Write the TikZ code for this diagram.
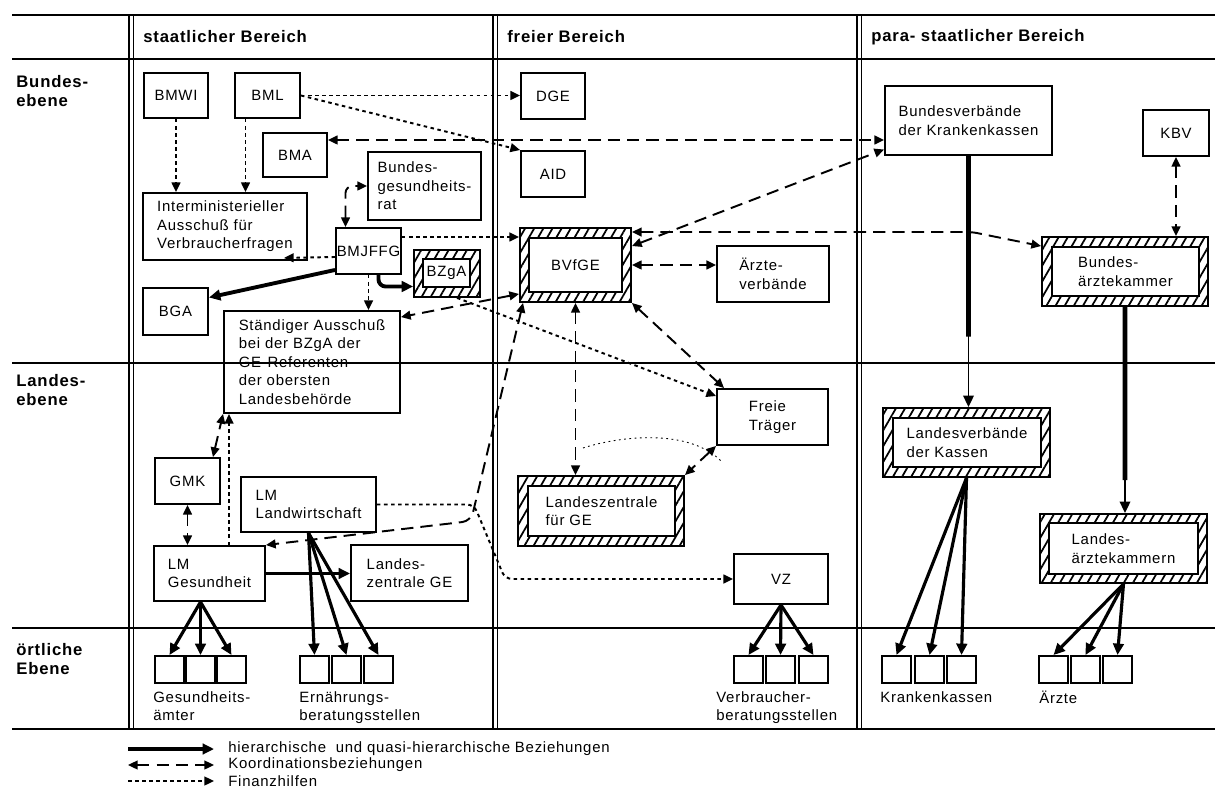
\documentclass[tikz,border=0pt]{standalone}
\usepackage{fontspec}
\setmainfont{Liberation Sans}[LetterSpace=5]
\usetikzlibrary{arrows.meta,calc,fit,patterns.meta}
\newcommand{\lblfont}{\fontsize{8.5}{10.6}\selectfont}
\newcommand{\hdfont}{\fontsize{9.5}{10.6}\selectfont\bfseries}
\tikzset{
  box/.style={draw, line width=1.1pt, inner sep=0pt, label={[lbl]center:#1}},
  hatchbox/.style={draw, line width=1.1pt, inner sep=0pt, pattern={Lines[angle=60,distance=4.5pt,line width=1pt]}},
  cell/.style={draw, line width=1.1pt, inner sep=0pt},
  hier/.style={line width=2.2pt, -{Triangle[length=6.5pt,width=6pt]}},
  fan/.style={hier, line width=1.8pt},
  koord/.style={line width=1.1pt, dash pattern=on 7pt off 4pt, {Triangle[length=5.5pt,width=5pt]}-{Triangle[length=5.5pt,width=5pt]}},
  fin/.style={line width=1.1pt, dash pattern=on 2pt off 2pt, -{Triangle[length=5.5pt,width=5pt]}},
  frameline/.style={line width=0.9pt},
  lbl/.style={font=\lblfont, align=left, inner sep=0pt},
  hd/.style={font=\hdfont, align=left, inner sep=0pt}
}
\begin{document}
\begin{tikzpicture}[x=0.02cm, y=-0.02cm]
  \useasboundingbox (0,0) rectangle (1217,790);
  % table frame
  \foreach \y in {15,59,363,628,729} \draw[frameline] (12,\y) -- (1215,\y);
  \foreach \x in {129,493,857} {
    \draw[frameline] (\x,15) -- (\x,729);
    \draw[frameline] (\x+4.5,15) -- (\x+4.5,729);
  }
  \node[hd, anchor=west] (hstaat) at (143,37) {staatlicher Bereich};
  \node[hd, anchor=west] (hfrei) at (507,37) {freier Bereich};
  \node[hd, anchor=west] (hpara) at (871,37) {para- staatlicher Bereich};
  \node[hd, anchor=north west] (rbund) at (16,75) {Bundes-\\ebene};
  \node[hd, anchor=north west] (rland) at (16,374) {Landes-\\ebene};
  \node[hd, anchor=north west] (rort) at (16,643) {örtliche\\Ebene};
  % staatlicher Bereich
  \node[box=BMWI, fit={(144,73) (208,118)}] (bmwi) {};
  \node[box=BML, fit={(235,73) (300,118)}] (bml) {};
  \node[box=BMA, fit={(263,133) (327,177)}] (bma) {};
  \node[box={Bundes-\\gesundheits-\\rat}, fit={(368,152) (481,220)}] (bgr) {};
  \node[box={Interministerieller\\Ausschuß für\\Verbraucherfragen}, fit={(143,193) (307,260)}] (intermin) {};
  \node[box=BMJFFG, fit={(336,228) (401,274)}] (bmjffg) {};
  \node[hatchbox, fit={(414,250) (480,297)}] (bzga) {};
  \node[box=BZgA, fill=white, fit={(423,259) (470,287)}] (bzgain) {};
  \node[box=BGA, fit={(143,288) (208,335)}] (bga) {};
  \node[box={Ständiger Ausschuß\\bei der BZgA der\\GE-Referenten\\der obersten\\Landesbehörde}, fit={(224,311) (400,413)}] (staend) {};
  \node[box=GMK, fit={(155,458) (220,504)}] (gmk) {};
  \node[box={LM\\Landwirtschaft}, fit={(241,477) (376,532)}] (lml) {};
  \node[box={LM\\Gesundheit}, fit={(154,546) (265,601)}] (lmg) {};
  \node[box={Landes-\\zentrale GE}, fit={(351,545) (468,601)}] (lzge) {};
  % freier Bereich
  \node[box=DGE, fit={(521,73) (585,119)}] (dge) {};
  \node[box=AID, fit={(521,151) (585,197)}] (aid) {};
  \node[hatchbox, fit={(520,228) (631,302)}] (bvfge) {};
  \node[box=BVfGE, fill=white, fit={(529,238) (622,292)}] (bvfgein) {};
  \node[box={Ärzte-\\verbände}, fit={(717,246) (829,302)}] (aerzte) {};
  \node[box={Freie\\Träger}, fit={(717,389) (828,445)}] (freie) {};
  \node[hatchbox, fit={(518,476) (684,546)}] (lzfge) {};
  \node[box={Landeszentrale\\für GE}, fill=white, fit={(528,486) (675,536)}] (lzfgein) {};
  \node[box=VZ, fit={(734,554) (828,604)}] (vz) {};
  % para-staatlicher Bereich
  \node[box={Bundesverbände\\der Krankenkassen}, fit={(885,86) (1052,155)}] (bvkk) {};
  \node[box=KBV, fit={(1143,110) (1209,156)}] (kbv) {};
  \node[hatchbox, fit={(1042,237) (1208,306)}] (baek) {};
  \node[box={Bundes-\\ärztekammer}, fill=white, fit={(1052,247) (1199,296)}] (baekin) {};
  \node[hatchbox, fit={(883,408) (1050,477)}] (lvk) {};
  \node[box={Landesverbände\\der Kassen}, fill=white, fit={(893,418) (1041,467)}] (lvkin) {};
  \node[hatchbox, fit={(1040,514) (1207,583)}] (laek) {};
  \node[box={Landes-\\ärztekammern}, fill=white, fit={(1049,523) (1198,574)}] (laekin) {};
  % oertliche Ebene
  \foreach \i/\x in {1/155,2/186,3/217} \node[cell, fit={(\x,656) (\x+29,683)}] (ga\i) {};
  \foreach \i/\x in {1/300,2/332,3/364} \node[cell, fit={(\x,656) (\x+29,683)}] (eb\i) {};
  \foreach \i/\x in {1/734,2/766,3/799} \node[cell, fit={(\x,656) (\x+29,683)}] (vb\i) {};
  \foreach \i/\x in {1/882,2/915,3/947} \node[cell, fit={(\x,656) (\x+29,683)}] (kk\i) {};
  \foreach \i/\x in {1/1039,2/1071,3/1103} \node[cell, fit={(\x,656) (\x+29,683)}] (ae\i) {};
  \node[lbl, anchor=north west] (tga) at (153,691) {Gesundheits-\\ämter};
  \node[lbl, anchor=north west] (teb) at (299,691) {Ernährungs-\\beratungsstellen};
  \node[lbl, anchor=north west] (tvb) at (716,691) {Verbraucher-\\beratungsstellen};
  \node[lbl, anchor=north west] (tkk) at (880,691) {Krankenkassen};
  \node[lbl, anchor=north west] (tae) at (1039,691) {Ärzte};
  % Bundesebene
  \draw[fin] (bmwi.south) -- (bmwi.south |- intermin.north);
  \coordinate (bmlfoot) at ($(bml.south)+(-22,0)$);
  \draw[fin] (bmlfoot) -- (bmlfoot |- intermin.north);
  \draw[fin] (bml.east) -- (bml.east -| dge.west);
  \draw[fin] (bml.east) -- (aid.north west);
  \coordinate (bmaout) at ($(bma.east)+(0,-15)$);
  \draw[koord] (bmaout) -- (bmaout -| bvkk.west);
  \draw[koord, rounded corners=4pt] ($(bmjffg.north)+(-23,0)$) |- (bgr.west);
  \draw[fin] ($(bmjffg.west)+(0,6)$) -- ($(intermin.south east)+(-24,-3)$);
  \coordinate (bmjout) at ($(bmjffg.east)+(0,-14)$);
  \draw[fin] (bmjout) -- (bmjout -| bvfge.west);
  \draw[hier] ($(bmjffg.south west)+(0,-5)$) -- ($(bga.east)+(0,-14)$);
  \draw[hier, rounded corners=4pt] ($(bmjffg.south)+(10,0)$) |- ($(bzga.west)+(0,13)$);
  \draw[fin] (bmjffg.south) -- (bmjffg.south |- staend.north);
  \draw[koord] ($(bvfge.south west)+(0,-9)$) -- ($(staend.north east)+(0,7)$);
  \draw[fin] ($(bzga.south)+(10,0)$) -- ($(freie.north west)+(0,8)$);
  \draw[koord] ($(bvfge.north east)+(0,19)$) -- ($(bvkk.west)+(0,29)$);
  \draw[koord, rounded corners=3pt] ($(bvfge.north east)+(0,5)$) -- ++(340,0) -- ($(baek.north west)+(0,10)$);
  \draw[koord] (bvfge.east) -- (bvfge.east -| aerzte.west);
  \draw[koord] (bvfge.south east) -- ($(freie.north west)+(8,0)$);
  \draw[koord] (bvfge.south) -- (bvfge.south |- lzfge.north);
  \draw[koord] (freie.south west) -- (lzfge.north east);
  \draw[line width=0.5pt, dash pattern=on 1pt off 2pt] (583,448) .. controls (620,436) and (690,428) .. (722,462);
  \draw[koord, rounded corners=5pt] ($(bvfge.south west)+(4,0)$) -- ($(lmg.north east)+(205,-24)$) -- (lmg.north east);
  \coordinate (bvkkmid) at ($(bvkk.south)!0.72!(bvkk.south |- lvk.north)$);
  \draw[line width=2.6pt] (bvkk.south) -- (bvkkmid);
  \draw[hier, line width=1pt] (bvkk.south) -- (bvkk.south |- lvk.north);
  \draw[koord] (kbv.south) -- (kbv.south |- baek.north);
  \coordinate (baekmid) at ($(baek.south)!0.84!(baek.south |- laek.north)$);
  \draw[line width=2.6pt] (baek.south) -- (baekmid);
  \draw[hier, line width=1pt] (baek.south) -- (baek.south |- laek.north);
  % Landesebene
  \draw[koord] ($(gmk.north east)+(-8,0)$) -- (staend.south west);
  \coordinate (lmgtop) at ($(lmg.north west)+(76,0)$);
  \draw[fin] (lmgtop) -- (lmgtop |- staend.south);
  \draw[koord] (gmk.south) -- (gmk.south |- lmg.north);
  \draw[hier] (lmg.east) -- (lmg.east -| lzge.west);
  \draw[fin, rounded corners=4pt] (lml.east) -- ++(97,0) -- ($(vz.west)+(-228,0)$) -- (vz.west);
  \foreach \i in {1,2,3} {
    \draw[fan] (ga2.north |- lmg.south) -- (ga\i.north);
    \draw[fan] (lml.south) -- (eb\i.north);
    \draw[fan] (vz.south) -- (vb\i.north);
    \draw[fan] (lvk.south) -- (kk\i.north);
    \draw[fan] (laek.south) -- (ae\i.north);
  }
  % legend
  \node[lbl, anchor=west] (lhier) at (228,749) {hierarchische\ \ und quasi-hierarchische Beziehungen};
  \node[lbl, anchor=west] (lkoord) at (228,765) {Koordinationsbeziehungen};
  \node[lbl, anchor=west] (lfin) at (228,781) {Finanzhilfen};
  \coordinate (lh0) at (128,749);
  \coordinate (lk0) at (128,765);
  \coordinate (lf0) at (128,781);
  \draw[hier, line width=2.8pt] (lh0) -- ($(lhier.west)+(-14,0)$);
  \draw[koord] (lk0) -- ($(lkoord.west)+(-14,0)$);
  \draw[fin] (lf0) -- ($(lfin.west)+(-14,0)$);
\end{tikzpicture}
\end{document}
